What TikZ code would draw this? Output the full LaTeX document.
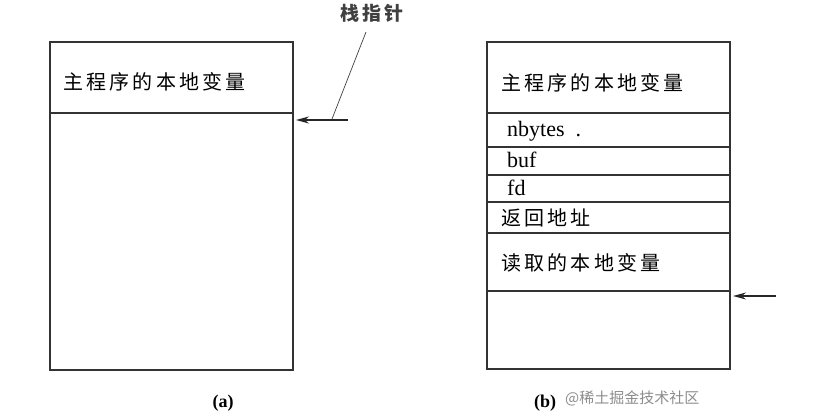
\documentclass[tikz,border=0pt]{standalone}
\usepackage{fontspec}
\setmainfont{Liberation Serif}
\newfontfamily\cjk[LetterSpace=16]{Noto Sans CJK SC}
\newfontfamily\cjkmark{Noto Sans CJK SC}
\usetikzlibrary{arrows.meta}

\tikzset{
  frame/.style={draw=black!80, line width=1.2pt},
  latin/.style={anchor=west, inner sep=0pt, font=\fontsize{22}{22}\selectfont},
  hanzi/.style={anchor=west, inner sep=0pt, font=\cjk\fontsize{20}{20}\selectfont},
  caption/.style={inner sep=0pt, font=\bfseries\fontsize{18}{18}\selectfont},
  ptr/.style={draw=black!85, line width=1.3pt, -{Stealth[length=13pt,width=7pt]}},
  leader/.style={draw=black!75, line width=0.7pt},
}

\begin{document}
\begin{tikzpicture}[x=1pt, y=-1pt]
  \useasboundingbox (0,0) rectangle (819,417);

  % (a)
  \draw[frame] (50,42) rectangle (293,370);
  \draw[frame] (50,113) -- (293,113);
  \node[hanzi] (maina) at (63,82) {主程序的本地变量};
  \node[caption] (capa) at (223,403) {(a)};

  % stack pointer
  \node[inner sep=0pt, font=\cjk\bfseries\fontsize{19}{19}\selectfont, text=black!75] (sp) at (372,13) {栈指针};
  \coordinate (la) at (366,32);
  \coordinate (lb) at (332,119);
  \coordinate (sa) at (348,120);
  \coordinate (ta) at (296,120);
  \draw[leader] (la) -- (lb);
  \draw[ptr] (sa) -- (ta);

  % (b)
  \draw[frame] (487,42) rectangle (730,369);
  \draw[frame] (487,113) -- (730,113);
  \draw[frame] (487,147) -- (730,147);
  \draw[frame] (487,175) -- (730,175);
  \draw[frame] (487,202) -- (730,202);
  \draw[frame] (487,233) -- (730,233);
  \draw[frame] (487,291) -- (730,291);
  \node[hanzi] (mainb) at (501,83) {主程序的本地变量};
  \node[latin] (nbytes) at (507,131) {nbytes\ \ .};
  \node[latin] (buf) at (507,160) {buf};
  \node[latin] (fd) at (507,188) {fd};
  \node[hanzi] (ret) at (501,218) {返回地址};
  \node[hanzi] (readv) at (501,263) {读取的本地变量};
  \node[caption] (capb) at (545,403) {(b)};
  \coordinate (sb) at (776,296);
  \coordinate (tb) at (733,296);
  \draw[ptr] (sb) -- (tb);

  \node[anchor=west, inner sep=0pt, font=\cjkmark\fontsize{15}{15}\selectfont, text=black!45] (mark) at (565,398) {@稀土掘金技术社区};
\end{tikzpicture}
\end{document}
